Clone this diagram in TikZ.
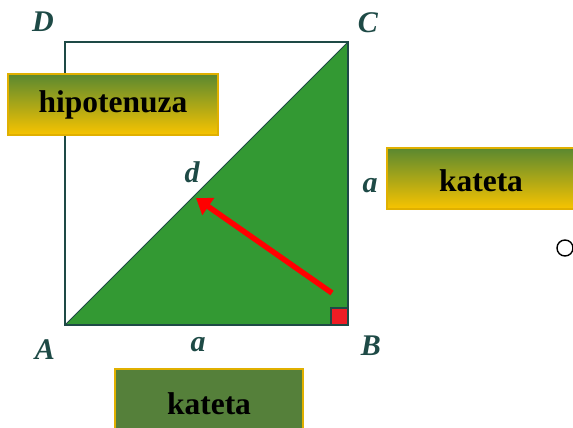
\documentclass[tikz,border=0pt]{standalone}
\usepackage{fontspec}
\setmainfont{Liberation Serif}
\usetikzlibrary{arrows.meta}
\definecolor{edgec}{HTML}{1E4A46}
\definecolor{trigreen}{HTML}{339933}
\definecolor{boxtop}{HTML}{5A8830}
\definecolor{boxbot}{HTML}{F8C400}
\definecolor{boxline}{HTML}{E0B000}
\definecolor{olive}{HTML}{55803A}
\definecolor{rednote}{HTML}{EE1C24}
\definecolor{arrred}{HTML}{FF0000}
\begin{document}
\begin{tikzpicture}[x=1pt,y=-1pt,
  vlabel/.style={font=\fontsize{30}{30}\selectfont\bfseries\itshape, text=edgec, inner sep=0pt},
  gradbox/.style={draw=boxline, line width=1.2pt, top color=boxtop, bottom color=boxbot, font=\fontsize{31.5}{31.5}\selectfont\bfseries, text=black},
  solidbox/.style={draw=boxline, line width=1.2pt, fill=olive, font=\fontsize{31.5}{31.5}\selectfont\bfseries, text=black}]
\useasboundingbox (0,0) rectangle (573,428);
% vertices
\coordinate (A) at (65,325);
\coordinate (B) at (348,325);
\coordinate (C) at (348,42);
\coordinate (D) at (65,42);
% triangle
\fill[trigreen] (A) -- (B) -- (C) -- cycle;
\draw[edgec, line width=1.6pt] (A) -- (B) -- (C) -- (D) -- cycle;
\draw[edgec, line width=1pt] (A) -- (C);
% right angle mark
\draw[edgec, line width=1.3pt, fill=rednote] (331,308) rectangle (348,325);
% arrow
\coordinate (arrS) at (332,293);
\coordinate (arrE) at (196,198);
\draw[arrred, line width=5.5pt, -{Triangle[length=15pt,width=20pt]}] (arrS) -- (arrE);
% vertex labels
\node[vlabel] (lD) at (43,22) {D};
\node[vlabel] (lC) at (368,23) {C};
\node[vlabel] (lA) at (45,350) {A};
\node[vlabel] (lB) at (371,346) {B};
\node[vlabel] (ld) at (192,172) {d};
\node[vlabel] (la1) at (370,186) {a};
\node[vlabel] (la2) at (198,345) {a};
% boxes
\node[gradbox, minimum width=210pt, minimum height=61pt] (hip) at (113,104.5) {hipotenuza};
\path[gradbox] (387,148) rectangle (580,209);
\node[font=\fontsize{31.5}{31.5}\selectfont\bfseries] (kat1) at (481,181) {kateta};
\path[solidbox] (115,369) rectangle (303,440);
\node[font=\fontsize{31.5}{31.5}\selectfont\bfseries] (kat2) at (209,404) {kateta};
% small circle
\draw[black, line width=1.4pt] (565,248) circle (8);
\end{tikzpicture}
\end{document}
